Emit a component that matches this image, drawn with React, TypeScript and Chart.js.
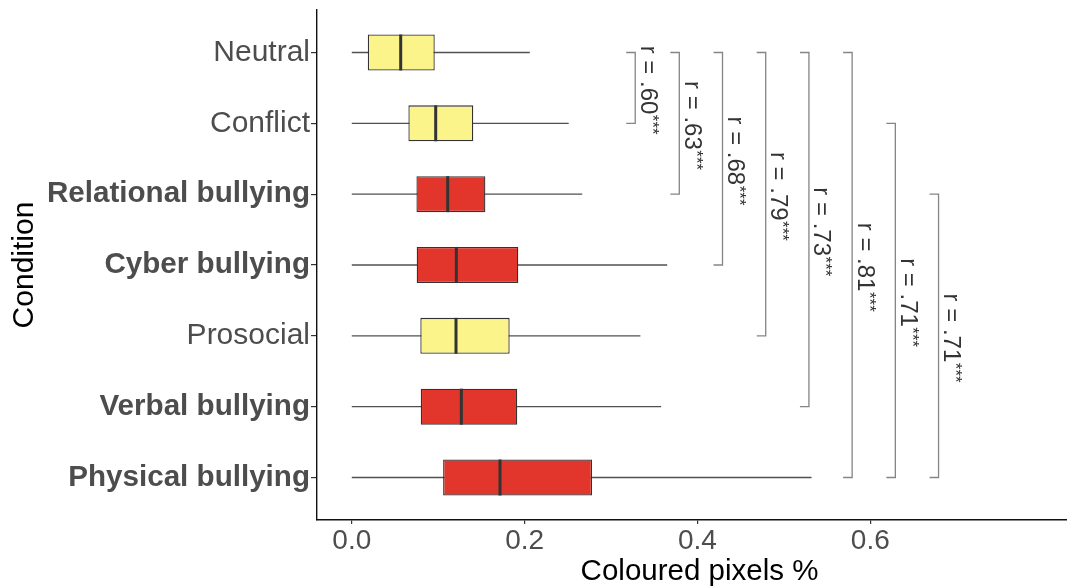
import React, { useEffect, useRef } from "react";
import { Chart, registerables } from "chart.js";

Chart.register(...registerables);

// ---- data ----
const categories = [
  "Neutral",
  "Conflict",
  "Relational bullying",
  "Cyber bullying",
  "Prosocial",
  "Verbal bullying",
  "Physical bullying",
];
const isBullying = [false, false, true, true, false, true, true];
const whiskerLow = [0, 0, 0, 0, 0, 0, 0];
const q1 = [0.0185, 0.0655, 0.0748, 0.0751, 0.0793, 0.0798, 0.1057];
const median = [0.0566, 0.0971, 0.111, 0.121, 0.1206, 0.1268, 0.1715];
const q3 = [0.096, 0.1406, 0.1546, 0.1927, 0.1827, 0.1915, 0.278];
const whiskerHigh = [0.206, 0.251, 0.2667, 0.365, 0.334, 0.358, 0.532];
const xTicks = [0, 0.2, 0.4, 0.6];

const bracketFrom = [0, 0, 0, 0, 0, 0, 1, 2];
const bracketTo = [1, 2, 3, 4, 5, 6, 6, 6];
const bracketX = [0.328, 0.379, 0.429, 0.479, 0.529, 0.579, 0.629, 0.679];
const bracketR = ["r = .60", "r = .63", "r = .68", "r = .79", "r = .73", "r = .81", "r = .71", "r = .71"];
const bracketStars = ["***", "***", "***", "***", "***", "***", "***", "***"];

const xTitle = "Coloured pixels %";
const yTitle = "Condition";

// ---- styles ----
const FONT = "'Liberation Sans', Arial, Helvetica, sans-serif";
const YELLOW = "#FBF48B";
const RED = "#E2362C";

const boxPlugin = {
  id: "boxExtras",
  beforeDatasetsDraw(chart: any) {
    const { ctx, scales } = chart;
    const x = scales.x;
    const y = scales.y;
    ctx.save();
    ctx.strokeStyle = "#505050";
    ctx.lineWidth = 1.4;
    categories.forEach((_, i) => {
      const py = y.getPixelForValue(i);
      ctx.beginPath();
      ctx.moveTo(x.getPixelForValue(whiskerLow[i]), py);
      ctx.lineTo(x.getPixelForValue(whiskerHigh[i]), py);
      ctx.stroke();
    });
    ctx.restore();
  },
  afterDatasetsDraw(chart: any) {
    const { ctx, scales } = chart;
    const x = scales.x;
    const y = scales.y;
    const meta = chart.getDatasetMeta(0);
    ctx.save();
    // medians
    ctx.strokeStyle = "#333333";
    ctx.lineWidth = 3;
    categories.forEach((_, i) => {
      const el = meta.data[i];
      const h = el.getProps(["height"], true).height;
      const py = y.getPixelForValue(i);
      const px = x.getPixelForValue(median[i]);
      ctx.beginPath();
      ctx.moveTo(px, py - h / 2);
      ctx.lineTo(px, py + h / 2);
      ctx.stroke();
    });
    // brackets
    ctx.strokeStyle = "#858585";
    ctx.lineWidth = 1.3;
    const tickLen = 9;
    bracketX.forEach((bx, k) => {
      const px = x.getPixelForValue(bx);
      const y1 = y.getPixelForValue(bracketFrom[k]);
      const y2 = y.getPixelForValue(bracketTo[k]);
      ctx.beginPath();
      ctx.moveTo(px - tickLen, y1);
      ctx.lineTo(px, y1);
      ctx.lineTo(px, y2);
      ctx.lineTo(px - tickLen, y2);
      ctx.stroke();

      const mid = (y1 + y2) / 2;
      ctx.save();
      ctx.translate(px + 5.5, mid + 2);
      ctx.rotate(Math.PI / 2);
      ctx.fillStyle = "#333333";
      ctx.textBaseline = "alphabetic";
      ctx.textAlign = "left";
      ctx.font = `24px ${FONT}`;
      const w1 = ctx.measureText(bracketR[k]).width;
      ctx.font = `17px ${FONT}`;
      const w2 = ctx.measureText(bracketStars[k]).width;
      const start = -(w1 + w2) / 2;
      ctx.font = `24px ${FONT}`;
      ctx.fillText(bracketR[k], start, 0);
      ctx.font = `17px ${FONT}`;
      ctx.fillText(bracketStars[k], start + w1 + 0.5, -6);
      ctx.restore();
    });
    ctx.restore();
  },
};

export default function App() {
  const canvasRef = useRef<HTMLCanvasElement | null>(null);

  useEffect(() => {
    if (!canvasRef.current) return;
    const chart = new Chart(canvasRef.current, {
      type: "bar",
      data: {
        datasets: [
          {
            data: categories.map((_, i) => ({ y: i, x: [q1[i], q3[i]] })) as any,
            backgroundColor: isBullying.map((b) => (b ? RED : YELLOW)),
            borderColor: "#333333",
            borderWidth: 1.3,
            borderSkipped: false,
            barPercentage: 0.508,
            categoryPercentage: 1,
          },
        ],
      },
      options: {
        indexAxis: "y",
        animation: false,
        responsive: true,
        maintainAspectRatio: false,
        layout: { padding: { top: 10, left: 0, right: 0, bottom: 0 } },
        plugins: {
          legend: { display: false },
          tooltip: { enabled: false },
        },
        scales: {
          x: {
            type: "linear",
            min: -0.04025,
            max: 0.845,
            offset: false,
            afterBuildTicks: (axis: any) => {
              axis.ticks = xTicks.map((v) => ({ value: v }));
            },
            afterFit: (axis: any) => {
              axis.height = 67;
              axis.paddingLeft = 0;
              axis.paddingRight = 0;
            },
            grid: {
              display: true,
              offset: false,
              drawOnChartArea: false,
              drawTicks: true,
              tickLength: 4,
              color: "#333333",
              lineWidth: 1.2,
            },
            border: { display: true, color: "#111111", width: 1.4 },
            ticks: {
              color: "#4D4D4D",
              padding: 0,
              font: { family: FONT, size: 28 },
              callback: (v: any) => Number(v).toFixed(1),
              maxRotation: 0,
            },
            title: {
              display: true,
              text: xTitle,
              color: "#000000",
              font: { family: FONT, size: 29.5, lineHeight: 1 },
              padding: { top: 0, bottom: 0 },
            },
          },
          y: {
            type: "linear",
            min: -0.6,
            max: 6.6,
            reverse: true,
            offset: false,
            afterBuildTicks: (axis: any) => {
              axis.ticks = categories.map((_, i) => ({ value: i }));
            },
            afterFit: (axis: any) => {
              axis.width = 317;
              axis.paddingTop = 0;
              axis.paddingBottom = 0;
            },
            grid: {
              display: true,
              offset: false,
              drawOnChartArea: false,
              drawTicks: true,
              tickLength: 6,
              color: "#333333",
              lineWidth: 1.2,
            },
            border: { display: true, color: "#111111", width: 1.4 },
            ticks: {
              color: "#4D4D4D",
              padding: 1,
              autoSkip: false,
              font: (ctx: any) => {
                const bold = isBullying[ctx.tick ? ctx.tick.value : ctx.index];
                return { family: FONT, size: bold ? 29.6 : 30, weight: bold ? "bold" : "normal" };
              },
              callback: (v: any) => categories[Math.round(Number(v))] ?? "",
            },
            title: {
              display: true,
              text: yTitle,
              color: "#000000",
              font: { family: FONT, size: 30, lineHeight: 1 },
              padding: { top: 10, bottom: 0 },
            },
          },
        },
      },
      plugins: [boxPlugin],
    });
    return () => chart.destroy();
  }, []);

  return (
    <div
      style={{
        position: "fixed",
        left: 0,
        top: 0,
        width: 1067,
        height: 587,
        overflow: "hidden",
        background: "#ffffff",
      }}
    >
      <div style={{ position: "relative", width: 1082, height: 587 }}>
        <canvas ref={canvasRef} style={{ display: "block" }} />
      </div>
    </div>
  );
}
